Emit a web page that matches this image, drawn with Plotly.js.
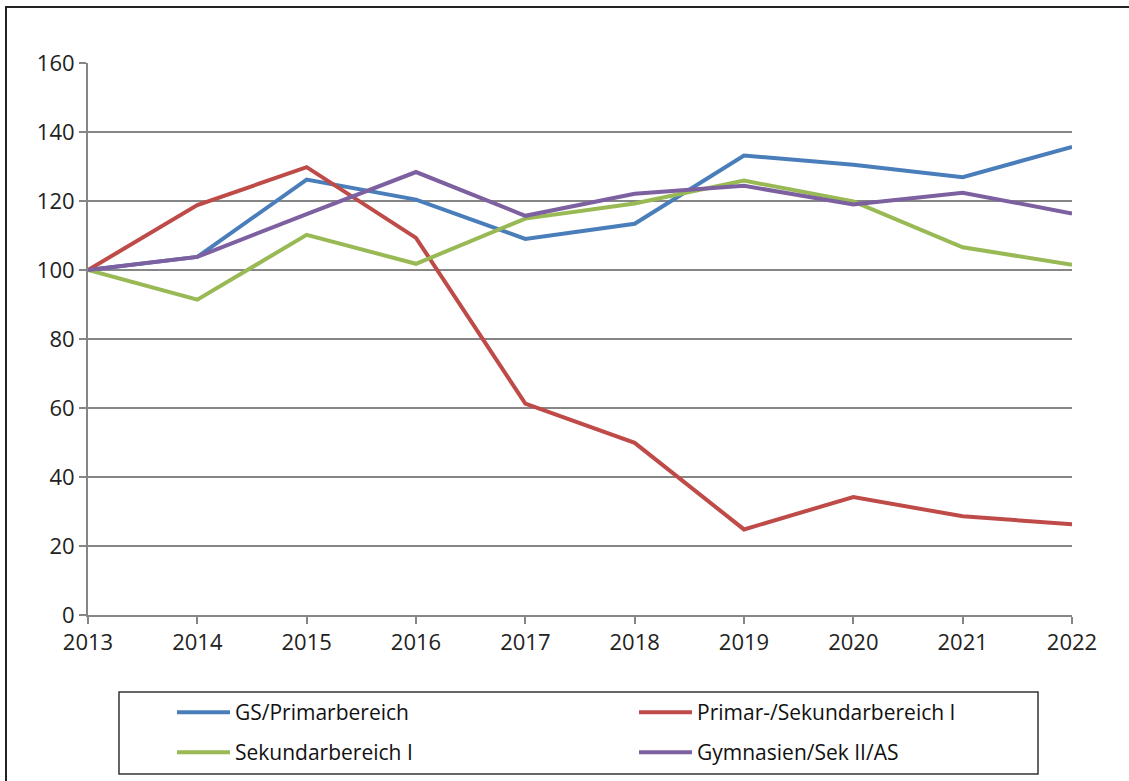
<!DOCTYPE html>
<html>
<head>
<meta charset="utf-8">
<script src="https://cdn.plot.ly/plotly-3.0.1.min.js"></script>
<style>html,body{margin:0;padding:0;background:#fff;}#chart{width:1129px;height:781px;}</style>
</head>
<body>
<div id="chart"></div>
<script>
const years = ['2013','2014','2015','2016','2017','2018','2019','2020','2021','2022'];
const gsPrimar = [100, 103.8, 126.2, 120.4, 109.0, 113.4, 133.2, 130.5, 126.9, 135.7];
const primarSek = [100, 118.8, 129.8, 109.3, 61.3, 49.9, 24.8, 34.2, 28.6, 26.3];
const sekI = [100, 91.4, 110.2, 101.8, 114.9, 119.3, 125.9, 119.9, 106.6, 101.5];
const gymnasien = [100, 103.8, 116.2, 128.4, 115.7, 122.1, 124.4, 119.0, 122.4, 116.4];
const names = ['GS/Primarbereich', 'Primar-/Sekundarbereich I', 'Sekundarbereich I', 'Gymnasien/Sek II/AS'];
const colors = ['#4A7EBB', '#BE4B48', '#98B954', '#7D60A0'];
const series = [gsPrimar, primarSek, sekI, gymnasien];
const legends = ['legend', 'legend', 'legend2', 'legend2'];

const traces = series.map((s, i) => ({
  x: years, y: s, type: 'scatter', mode: 'lines', name: names[i],
  line: {color: colors[i], width: 4},
  legend: legends[i]
}));

const font = {family: 'Open Sans, sans-serif', size: 22, color: '#222'};
const legFont = {family: 'Open Sans, sans-serif', size: 21, color: '#111'};

const layout = {
  width: 1129, height: 781,
  margin: {l: 88, r: 57, t: 63, b: 166, autoexpand: false},
  paper_bgcolor: '#fff', plot_bgcolor: '#fff',
  font: font,
  showlegend: true,
  xaxis: {
    type: 'category', range: [0, 9], showgrid: false,
    showline: true, linecolor: '#868686', linewidth: 2,
    ticks: 'outside', ticklen: 7, tickcolor: '#868686', tickwidth: 2,
    tickfont: font, zeroline: false, fixedrange: true
  },
  yaxis: {
    range: [0, 160], dtick: 20, tick0: 0,
    showgrid: true, gridcolor: '#868686', gridwidth: 2,
    showline: true, linecolor: '#868686', linewidth: 2,
    ticks: 'outside', ticklen: 7, tickcolor: '#868686', tickwidth: 2,
    tickfont: font, zeroline: false, fixedrange: true
  },
  legend: {
    orientation: 'h', xref: 'container', yref: 'container',
    x: 172 / 1129, xanchor: 'left', y: 1 - 692 / 781, yanchor: 'top',
    entrywidth: 394, itemwidth: 53, font: legFont, bgcolor: 'rgba(0,0,0,0)', traceorder: 'normal'
  },
  legend2: {
    orientation: 'h', xref: 'container', yref: 'container',
    x: 172 / 1129, xanchor: 'left', y: 1 - 732 / 781, yanchor: 'top',
    entrywidth: 394, itemwidth: 53, font: legFont, bgcolor: 'rgba(0,0,0,0)', traceorder: 'normal'
  },
  shapes: [
    {type: 'rect', xref: 'paper', yref: 'paper',
     x0: (6 - 88) / 984, x1: (1140 - 88) / 984, y0: (615 - 800) / 552, y1: (615 - 7) / 552,
     line: {color: '#222', width: 2}, fillcolor: 'rgba(0,0,0,0)', layer: 'below'},
    {type: 'rect', xref: 'paper', yref: 'paper',
     x0: (119 - 88) / 984, x1: (1038 - 88) / 984, y0: (615 - 774) / 552, y1: (615 - 692) / 552,
     line: {color: '#333', width: 1.5}, fillcolor: 'rgba(0,0,0,0)', layer: 'below'}
  ]
};

Plotly.newPlot('chart', traces, layout, {displayModeBar: false, staticPlot: true});
</script>
</body>
</html>
